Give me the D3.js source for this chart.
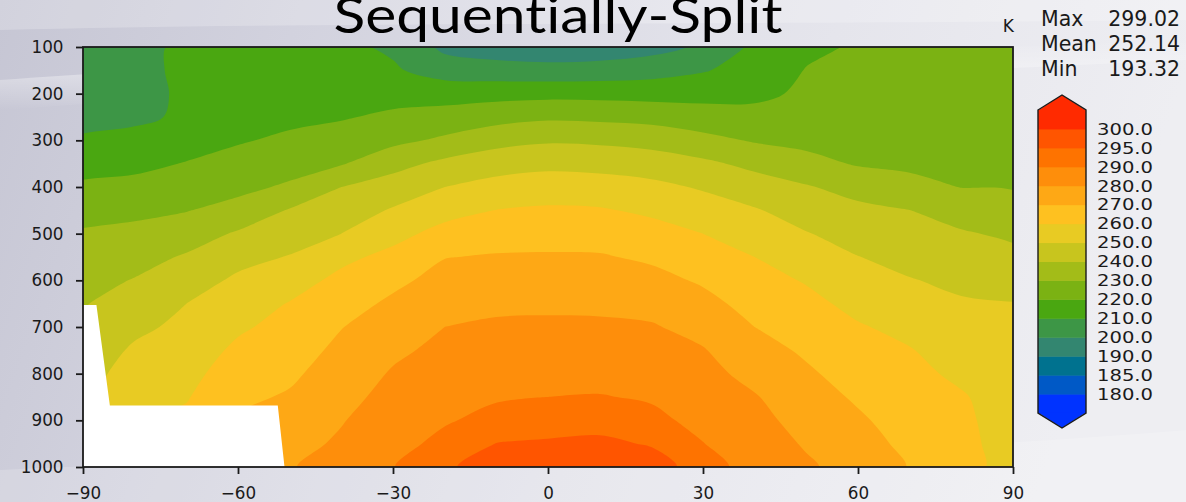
<!DOCTYPE html>
<html><head><meta charset="utf-8">
<script src="https://cdn.jsdelivr.net/npm/d3@7"></script>
<style>html,body{margin:0;padding:0;overflow:hidden;background:#dcdce4}svg{display:block}</style>
</head><body>
<svg id="chart" width="1186" height="502"></svg>
<script>
// ---------------- data ----------------
const lats = [-90,-80,-70,-60,-50,-40,-30,-20,-10,0,10,20,30,40,50,60,70,80,90];
const pressures = [100,150,200,250,300,350,400,450,500,550,600,650,700,750,800,850,900,950,1000];
// temperature (K) by latitude column, values from top (100 hPa) to bottom (1000 hPa)
const tLatM90 = [205,205.5,206.5,208.8,210.5,216,221.8,226.8,231,233.8,236.6,239.4,242,244,246,248,250,252,254];
const tLatM80 = [207,207.5,208,209,211.5,217.5,222.9,227.9,232.4,236.5,240.5,244.3,247.9,251.4,254.4,257.3,260,263,266];
const tLatM70 = [212,211.8,211,210.8,215.5,220.5,225,229.6,235.4,241,245.5,250,252.3,254.7,257,259.3,262,265,268];
const tLatM60 = [213,213.5,214.5,216.5,219.2,223.1,227.5,233.4,241.1,247,251.7,255.2,258.6,261.9,265,268,271,274,277];
const tLatM50 = [212.5,214,215.5,218,221.6,226.1,231.4,240.7,245.6,250.5,255.7,260.5,263.1,265.7,268.3,271,273.8,276.6,279.4];
const tLatM40 = [212,213.5,215.5,219.2,224.2,229.3,240,245,250,257.7,262.5,266.1,269.7,272.2,274.6,277,279.4,281.5,283.5];
const tLatM30 = [208.5,211.2,216.4,221.8,227.6,236.7,244.6,250.9,257,262.7,267.8,271.8,275,278.2,280.9,283.1,285.4,287.6,289.8];
const tLatM20 = [197.5,205.8,215.8,224,231.7,242.4,250,256.6,263.2,269.7,273.2,276.6,280,282.3,284.7,287,289.3,291.9,294.2];
const tLatM10 = [195,204,216.7,226.3,236.7,245.9,253.4,260.2,265.7,270.8,274.6,278.1,281.4,284,286.6,289.3,292.1,295.1,297.5];
const tLat0   = [193.5,203.4,217.1,228.4,238.8,247.6,255,261.4,266.3,271,274.7,278.4,281.6,284.4,287.2,290,292.8,295.6,298.5];
const tLatP10 = [194,204.2,216.9,227.8,238.2,246.8,254.3,260.9,266,270.8,274.5,278.2,281.5,284.5,287.4,290.4,293.2,296,299];
const tLatP20 = [196.5,206,216.5,226.7,236.5,245.2,252.4,258.3,263.6,268.5,272.9,277,280.8,283.6,286.4,289.2,291.9,294.6,297.3];
const tLatP30 = [201.5,209.3,216.8,224.4,232.8,242,249,254.6,260,264.4,268.8,272.9,277,280.6,283,285.4,287.8,290.2,292.7];
const tLatP40 = [212,213.8,218,222.9,229.1,237.5,244.7,250.8,255.4,260,263.3,266.7,270,273.6,277.1,280.7,283,285.2,287.4];
const tLatP50 = [218,220.4,221.5,224,227.5,233,240.8,245.7,250.5,254.9,259.3,262.5,265.6,268.6,271.4,273.9,276.4,279,281.5];
const tLatP60 = [221,222,223.5,225.2,227.5,229.2,236.5,242.3,246.3,250.2,253.9,257.5,260.8,263.5,266.1,268.8,271.3,273.5,275.5];
const tLatP70 = [222.5,223.2,224,225.2,226.5,228.3,232.7,240.1,243.6,247,250.5,254,257.5,260.5,262.3,264.2,266,267.8,269.6];
const tLatP80 = [223,223.5,224.2,225,226,227.5,229.8,235.6,241,244.5,248,251,253.3,255.8,258.3,260.8,261.5,261.8,262];
const tLatP90 = [223.5,223.8,224.3,225,226,227.3,229.4,233.6,238.3,242.5,246.4,250.3,252,253.5,254.7,255.7,256.5,257.2,257.8];
const columns = [tLatM90,tLatM80,tLatM70,tLatM60,tLatM50,tLatM40,tLatM30,tLatM20,tLatM10,tLat0,
                 tLatP10,tLatP20,tLatP30,tLatP40,tLatP50,tLatP60,tLatP70,tLatP80,tLatP90];

const levels = [180,185,190,200,210,220,230,240,250,260,270,280,290,295,300];
const levelLabels = ["180.0","185.0","190.0","200.0","210.0","220.0","230.0","240.0","250.0","260.0","270.0","280.0","290.0","295.0","300.0"];
const bandColors = ["#0033ff","#0059c6","#00728f","#338670","#3d9646","#4aa711","#7bb213","#a3bc18","#c8c51e","#e8cb23","#fec120","#fea815","#fe8e0b","#fe7300","#ff5500","#ff2a00"];

// below-ground mask (latitude, pressure)
const maskLat = [-90,-87.4,-84.8,-52.3,-51.0,-90];
const maskP   = [653,653,868,868,1000,1000];

const xTicks = [-90,-60,-30,0,30,60,90];
const yTicks = [100,200,300,400,500,600,700,800,900,1000];
const statNames = ["Max","Mean","Min"];
const statValues = ["299.02","252.14","193.32"];
const titleText = "Sequentially-Split";
const unitText = "K";

// ---------------- drawing ----------------
const svg = d3.select("#chart");
const W = 1186, H = 502;
const M = {left:83, right:1013, top:47, bottom:467};
const FONT = "DejaVu Sans, sans-serif";

// slide-like background
const defs = svg.append("defs");
const bg = defs.append("linearGradient").attr("id","bg").attr("x1","0").attr("y1","0").attr("x2","1").attr("y2","0.15");
[["0","#c6c6d4"],["0.25","#d2d2de"],["0.6","#e2e2ea"],["1","#eeeef2"]].forEach(s=>bg.append("stop").attr("offset",s[0]).attr("stop-color",s[1]));
svg.append("rect").attr("width",W).attr("height",H).attr("fill","url(#bg)");
const sw = defs.append("linearGradient").attr("id","sw").attr("x1","0").attr("y1","0").attr("x2","0").attr("y2","1");
[["0","#ffffff",0],["0.5","#ffffff",0.35],["1","#ffffff",0]].forEach(s=>sw.append("stop").attr("offset",s[0]).attr("stop-color",s[1]).attr("stop-opacity",s[2]));
svg.append("path").attr("d","M0,0 L1186,0 L1186,20 C700,25 300,22 0,30 Z").attr("fill","#ffffff").attr("opacity",0.22);
svg.append("path").attr("d","M0,80 C250,60 450,70 1186,40 L1186,60 C450,95 250,90 0,110 Z").attr("fill","url(#sw)");
svg.append("path").attr("d","M0,470 C300,455 700,470 1186,430 L1186,502 L0,502 Z").attr("fill","#ffffff").attr("opacity",0.18);

const x = d3.scaleLinear().domain([lats[0], lats[lats.length-1]]).range([M.left, M.right]);
const y = d3.scaleLinear().domain([pressures[0], pressures[pressures.length-1]]).range([M.top, M.bottom]);

// grid -> data coordinates (d3.contours puts sample i at i+0.5)
const nx = lats.length, ny = pressures.length;
const latOfGx = d3.scaleLinear().domain([0.5, nx-0.5]).range([lats[0], lats[nx-1]]);
const pOfGy = d3.scaleLinear().domain([0.5, ny-0.5]).range([pressures[0], pressures[ny-1]]);

const values = [];
for (let j=0;j<ny;j++) for (let i=0;i<nx;i++) values.push(columns[i][j]);

const contours = d3.contours().size([nx, ny]).thresholds(levels)(values);

defs.append("clipPath").attr("id","plotclip").append("rect")
  .attr("x",M.left).attr("y",M.top).attr("width",M.right-M.left).attr("height",M.bottom-M.top);

const plot = svg.append("g").attr("clip-path","url(#plotclip)");
plot.append("rect").attr("x",M.left).attr("y",M.top).attr("width",M.right-M.left).attr("height",M.bottom-M.top).attr("fill",bandColors[0]);

const lineGen = d3.line().curve(d3.curveCatmullRomClosed.alpha(0.5));
function ringPath(ring){
  const pts = ring.slice(0,-1).map(([gx,gy]) => [x(latOfGx(gx)), y(pOfGy(gy))]);
  return lineGen(pts);
}
contours.forEach((c,k)=>{
  if (!c.coordinates.length) return;
  const d = c.coordinates.map(poly => poly.map(ringPath).join("")).join("");
  plot.append("path").attr("d", d).attr("fill", bandColors[k+1]).attr("fill-rule","evenodd");
});

// mask
plot.append("path")
  .attr("d", d3.line()(maskLat.map((la,i)=>[x(la), y(maskP[i])])) + "Z")
  .attr("fill","#ffffff");

// frame
svg.append("rect").attr("x",M.left).attr("y",M.top).attr("width",M.right-M.left).attr("height",M.bottom-M.top)
  .attr("fill","none").attr("stroke","#1a1a1a").attr("stroke-width",1.8);

// axes
const xAxis = svg.append("g").attr("transform",`translate(0,${M.bottom})`)
  .call(d3.axisBottom(x).tickValues(xTicks).tickSize(7).tickPadding(13).tickFormat(d3.format("d")));
const yAxis = svg.append("g").attr("transform",`translate(${M.left},0)`)
  .call(d3.axisLeft(y).tickValues(yTicks).tickSize(7).tickPadding(12.5).tickFormat(d3.format("d")));
[xAxis,yAxis].forEach(a=>{
  a.select(".domain").remove();
  a.selectAll(".tick line").attr("stroke","#1a1a1a").attr("stroke-width",1.8);
  a.selectAll(".tick text").attr("font-family",FONT).attr("font-size",16.8).attr("fill","#1a1a1a");
});

// title
svg.append("text").attr("x",558).attr("y",33).attr("text-anchor","middle")
  .attr("font-family","Lato, 'Open Sans', sans-serif").attr("font-size",50)
  .style("font-variant-ligatures","none").style("font-feature-settings","'liga' 0")
  .attr("textLength",449).attr("lengthAdjust","spacingAndGlyphs")
  .attr("fill","#000").text(titleText);

// unit
svg.append("text").attr("x",1014).attr("y",32).attr("text-anchor","end")
  .attr("font-family",FONT).attr("font-size",17).attr("fill","#1a1a1a").text(unitText);

// stats
statNames.forEach((n,i)=>{
  svg.append("text").attr("x",1041).attr("y",26+i*25).attr("font-family",FONT).attr("font-size",20.5).attr("fill","#1a1a1a").text(n);
  svg.append("text").attr("x",1180).attr("y",26+i*25).attr("text-anchor","end").attr("font-family",FONT).attr("font-size",20.5).attr("fill","#1a1a1a").text(statValues[i]);
});

// colorbar
const cbX0 = 1038, cbX1 = 1086, cbMid = (cbX0+cbX1)/2;
const nb = bandColors.length;
const cy = d3.scaleLinear().domain([0, nb]).range([413, 110]);
const cb = svg.append("g");
bandColors.forEach((col,k)=>{
  cb.append("rect").attr("x",cbX0).attr("width",cbX1-cbX0)
    .attr("y",cy(k+1)).attr("height",cy(k)-cy(k+1)+0.5).attr("fill",col);
});
cb.append("path").attr("d",`M${cbX0},${cy(nb)+0.5}L${cbMid},${cy(nb)-15}L${cbX1},${cy(nb)+0.5}Z`).attr("fill",bandColors[nb-1]);
cb.append("path").attr("d",`M${cbX0},${cy(0)-0.5}L${cbMid},${cy(0)+15}L${cbX1},${cy(0)-0.5}Z`).attr("fill",bandColors[0]);
cb.append("path").attr("d",`M${cbX0},${cy(nb)}L${cbMid},${cy(nb)-15}L${cbX1},${cy(nb)}L${cbX1},${cy(0)}L${cbMid},${cy(0)+15}L${cbX0},${cy(0)}Z`)
  .attr("fill","none").attr("stroke","#1a1a1a").attr("stroke-width",1.4);
levels.forEach((lv,k)=>{
  cb.append("text").attr("x",1097).attr("y",cy(k+1)).attr("dy","0.36em")
    .attr("font-family",FONT).attr("font-size",16).attr("textLength",56).attr("lengthAdjust","spacingAndGlyphs")
    .attr("fill","#1a1a1a").text(levelLabels[k]);
});
</script>
</body></html>
